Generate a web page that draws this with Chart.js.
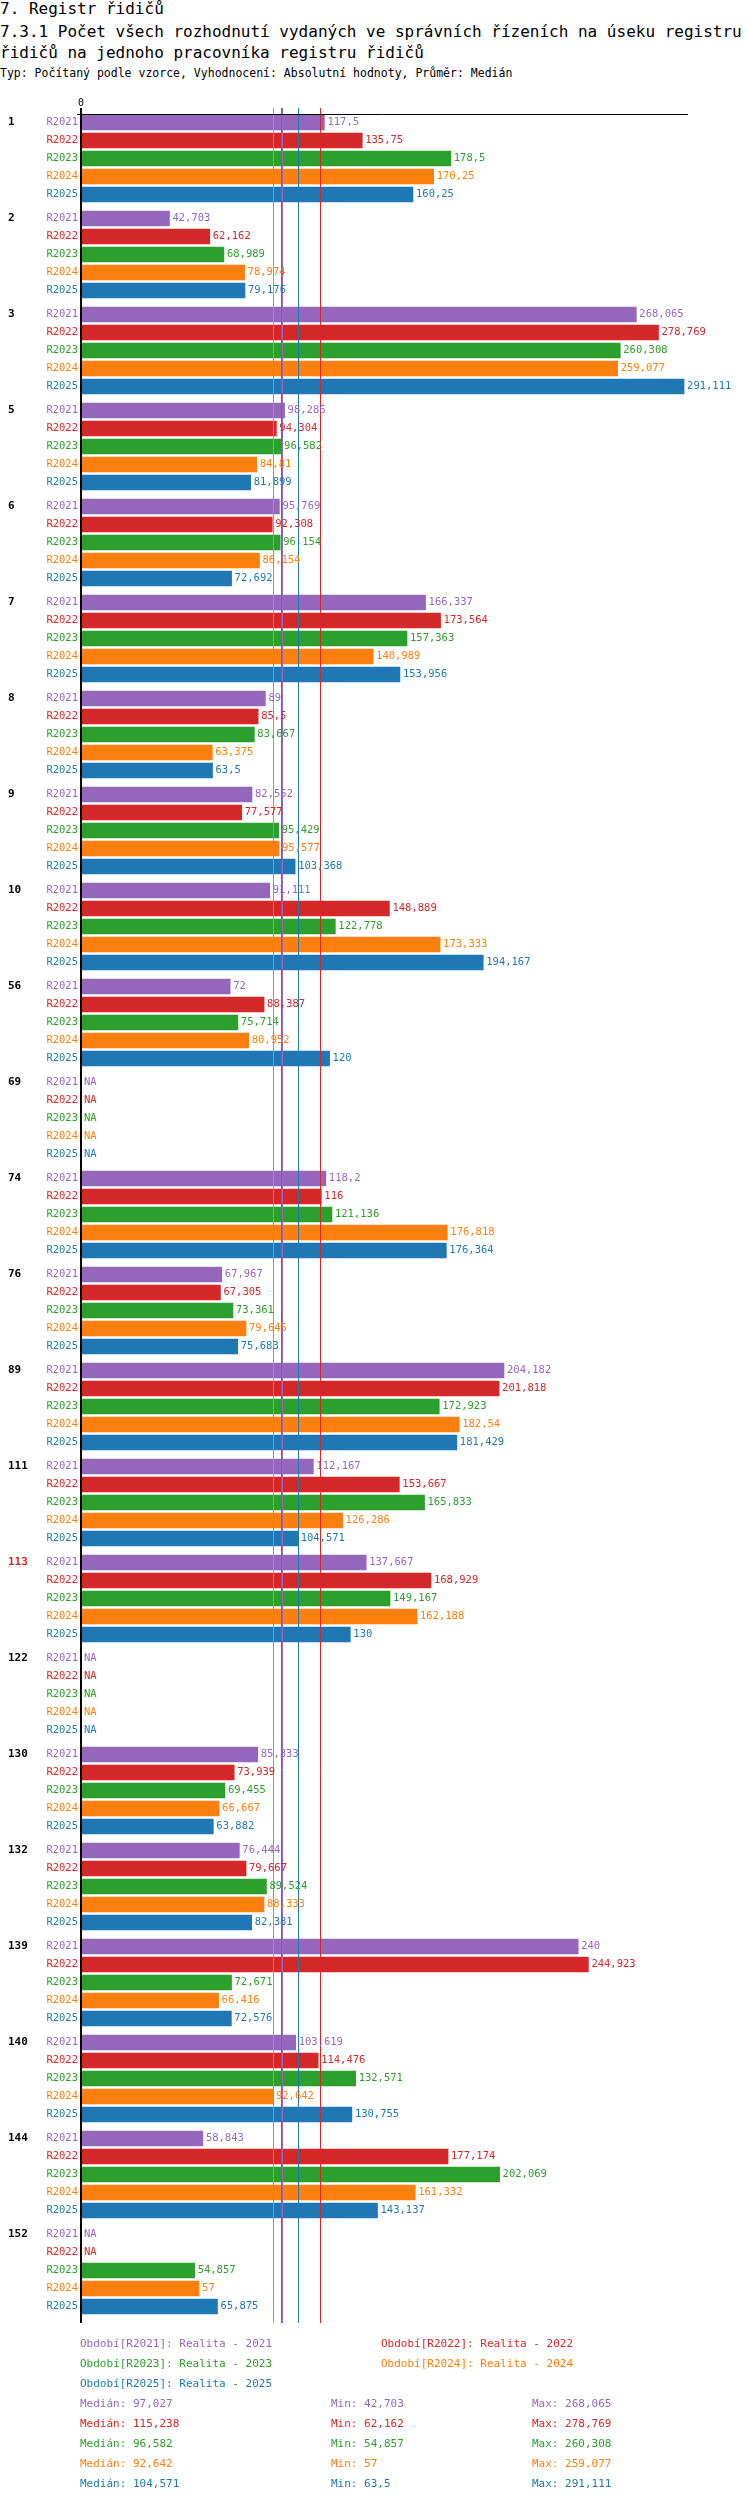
<!DOCTYPE html>
<html>
<head>
<meta charset="utf-8">
<script src="https://cdn.jsdelivr.net/npm/chart.js@4"></script>
<style>
  body { margin: 0; background: #fff; font-family: "DejaVu Sans Mono", monospace; }
  #wrap { position: relative; width: 750px; height: 2502px; }
  #chart { position: absolute; left: 0; top: 0; }
  .t { position: absolute; left: 0; white-space: nowrap; color: #000; }
  .lg { position: absolute; font-size: 11px; white-space: nowrap; }
</style>
</head>
<body>
<div id="wrap">
  <div class="t" style="top:-2px;font-size:16px;line-height:21px;">7. Registr řidičů</div>
  <div class="t" style="top:21px;font-size:16px;line-height:21px;width:748px;white-space:normal;word-break:break-all;">7.3.1 Počet všech rozhodnutí vydaných ve správních řízeních na úseku registru řidičů na jednoho pracovníka registru řidičů</div>
  <div class="t" style="top:66px;font-size:11.5px;">Typ: Počítaný podle vzorce, Vyhodnocení: Absolutní hodnoty, Průměr: Medián</div>
  <canvas id="chart" width="750" height="2502"></canvas>
  <div id="legend"></div>
</div>
<script>
// Categories (districts) and years
const groups = ['1','2','3','5','6','7','8','9','10','56','69','74','76','89','111','113','122','130','132','139','140','144','152'];
const highlighted = ['113'];
const years = ['R2021','R2022','R2023','R2024','R2025'];
const colors = ['#9467bd','#d62728','#2ca02c','#ff7f0e','#1f77b4'];

// Series values per year (null = NA)
const r2021 = [117.5, 42.703, 268.065, 98.286, 95.769, 166.337, 89, 82.552, 91.111, 72, null, 118.2, 67.967, 204.182, 112.167, 137.667, null, 85.333, 76.444, 240, 103.619, 58.843, null];
const r2022 = [135.75, 62.162, 278.769, 94.304, 92.308, 173.564, 85.5, 77.577, 148.889, 88.387, null, 116, 67.305, 201.818, 153.667, 168.929, null, 73.939, 79.667, 244.923, 114.476, 177.174, null];
const r2023 = [178.5, 68.989, 260.308, 96.582, 96.154, 157.363, 83.667, 95.429, 122.778, 75.714, null, 121.136, 73.361, 172.923, 165.833, 149.167, null, 69.455, 89.524, 72.671, 132.571, 202.069, 54.857];
const r2024 = [170.25, 78.974, 259.077, 84.81, 86.154, 140.989, 63.375, 95.577, 173.333, 80.952, null, 176.818, 79.645, 182.54, 126.286, 162.188, null, 66.667, 88.333, 66.416, 92.642, 161.332, 57];
const r2025 = [160.25, 79.176, 291.111, 81.899, 72.692, 153.956, 63.5, 103.368, 194.167, 120, null, 176.364, 75.683, 181.429, 104.571, 130, null, 63.882, 82.381, 72.576, 130.755, 143.137, 65.875];
const series = [r2021, r2022, r2023, r2024, r2025];

// Summary stats shown under the chart
const legendNames = ['Realita - 2021','Realita - 2022','Realita - 2023','Realita - 2024','Realita - 2025'];
const medians = [97.027, 115.238, 96.582, 92.642, 104.571];
const mins = ['42,703','62,162','54,857','57','63,5'];
const maxs = ['268,065','278,769','260,308','259,077','291,111'];
const medianText = ['97,027','115,238','96,582','92,642','104,571'];

const GROUP_STEP = 96 / 18; // rows per group incl. gap
const fmt = v => String(v).replace('.', ',');

const datasets = years.map((y, i) => ({
  label: y,
  data: groups.map((g, gi) => ({ x: series[i][gi], y: gi * GROUP_STEP + i })).filter(p => p.x !== null),
  backgroundColor: colors[i],
  barThickness: 15,
  grouped: false
}));

const decorPlugin = {
  id: 'decor',
  afterDatasetsDraw(chart) {
    const { ctx, chartArea: a, scales: { x, y } } = chart;
    ctx.save();
    // median lines
    [3, 2, 0, 4, 1].forEach(i => {
      const px = Math.round(x.getPixelForValue(medians[i])) + 0.5;
      ctx.strokeStyle = colors[i];
      ctx.lineWidth = 1;
      ctx.beginPath(); ctx.moveTo(px, a.top - 6); ctx.lineTo(px, a.bottom); ctx.stroke();
    });
    // axes
    ctx.strokeStyle = '#000';
    ctx.lineWidth = 1;
    ctx.beginPath(); ctx.moveTo(a.left - 4, a.top + 0.5); ctx.lineTo(a.right, a.top + 0.5); ctx.stroke();
    ctx.lineWidth = 2;
    ctx.beginPath(); ctx.moveTo(a.left, a.top - 6); ctx.lineTo(a.left, a.bottom); ctx.stroke();
    ctx.fillStyle = '#000';
    ctx.font = '10px "DejaVu Sans Mono"';
    ctx.textAlign = 'center'; ctx.textBaseline = 'bottom';
    ctx.fillText('0', a.left, a.top - 6);
    // labels
    ctx.textBaseline = 'middle';
    groups.forEach((g, gi) => {
      const gy = y.getPixelForValue(gi * GROUP_STEP);
      ctx.font = 'bold 11px "DejaVu Sans Mono"';
      ctx.textAlign = 'left';
      ctx.fillStyle = highlighted.includes(g) ? '#d62728' : '#000';
      ctx.fillText(g, 8, gy);
      years.forEach((yr, i) => {
        const py = y.getPixelForValue(gi * GROUP_STEP + i);
        const v = series[i][gi];
        ctx.fillStyle = colors[i];
        ctx.font = '10.5px "DejaVu Sans Mono"';
        ctx.textAlign = 'right';
        ctx.fillText(yr, a.left - 3, py);
        ctx.textAlign = 'left';
        const vx = v === null ? a.left + 3 : x.getPixelForValue(v) + 3;
        ctx.fillText(v === null ? 'NA' : fmt(v), vx, py);
      });
    });
    ctx.restore();
  }
};

new Chart(document.getElementById('chart'), {
  type: 'bar',
  data: { datasets },
  options: {
    indexAxis: 'y',
    responsive: false,
    animation: false,
    layout: { padding: { left: 81, right: 62, top: 114, bottom: 179 } },
    plugins: { legend: { display: false }, tooltip: { enabled: false } },
    scales: {
      x: { type: 'linear', min: 0, max: 293, display: false, offset: false },
      y: { type: 'linear', min: -0.47, max: 122.25, reverse: true, display: false, offset: false, grace: 0 }
    }
  },
  plugins: [decorPlugin]
});

// Legend and stats as text
const legend = document.getElementById('legend');
const addText = (txt, left, top, color) => {
  const d = document.createElement('div');
  d.className = 'lg';
  d.style.left = left + 'px'; d.style.top = top + 'px'; d.style.color = color;
  d.textContent = txt;
  legend.appendChild(d);
};
const legendPos = [[80, 2337], [381, 2337], [80, 2357], [381, 2357], [80, 2377]];
years.forEach((yr, i) => addText('Období[' + yr + ']: ' + legendNames[i], legendPos[i][0], legendPos[i][1], colors[i]));
years.forEach((yr, i) => {
  const top = 2397 + i * 20;
  addText('Medián: ' + medianText[i], 80, top, colors[i]);
  addText('Min: ' + mins[i], 331, top, colors[i]);
  addText('Max: ' + maxs[i], 532, top, colors[i]);
});
</script>
</body>
</html>
